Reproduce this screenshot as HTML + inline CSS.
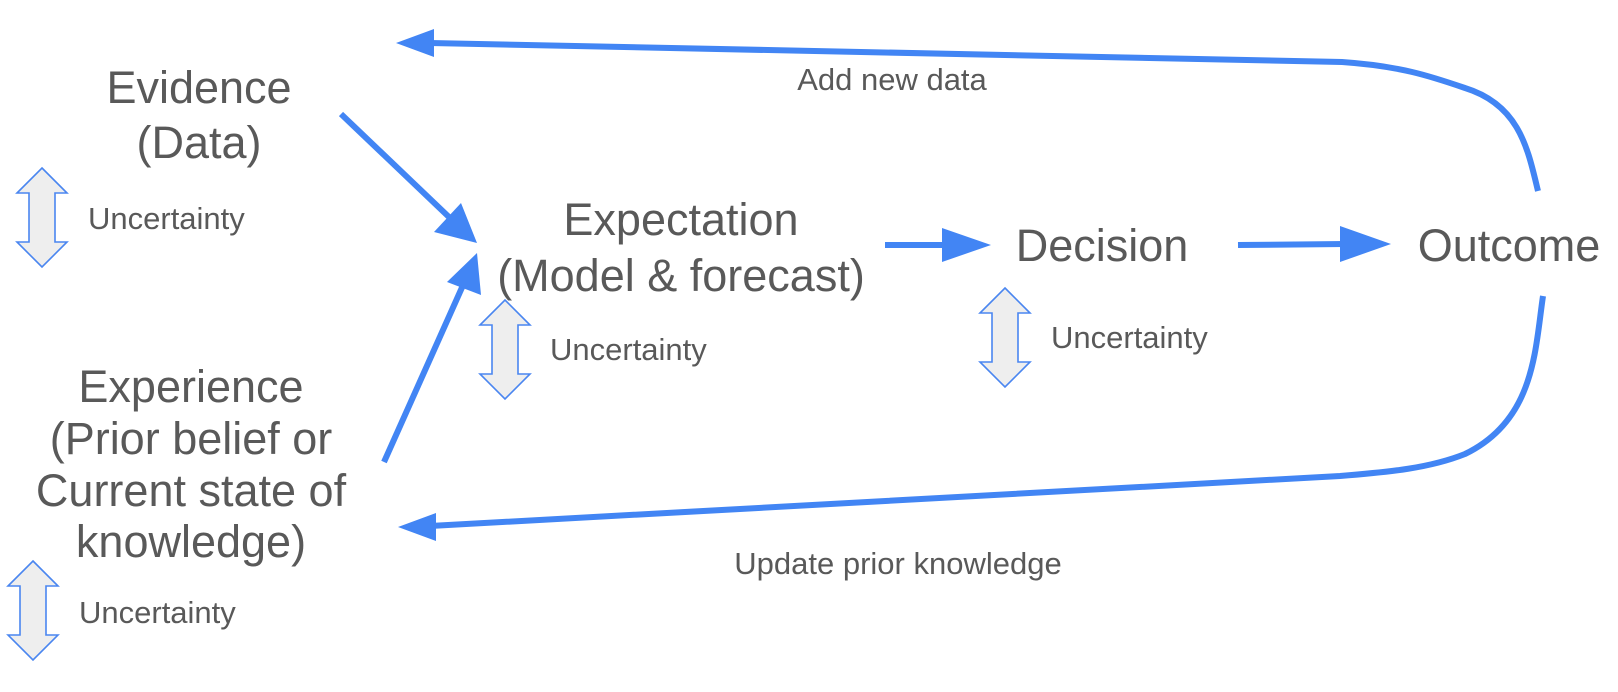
<!DOCTYPE html>
<html><head><style>
body{margin:0;width:1618px;height:692px;background:#fff;overflow:hidden}
svg{display:block}
text{font-family:"Liberation Sans",Arial,sans-serif;fill:#595959}
.b{font-size:45px}
.s{font-size:31px}
</style></head><body>
<svg width="1618" height="692" viewBox="0 0 1618 692">
<defs>
<g id="da"><path d="M25,0 L50,25 L38,25 L38,74 L50,74 L25,99 L0,74 L12,74 L12,25 L0,25 Z" fill="#eeeeee" stroke="#4a86f0" stroke-width="1.6" stroke-linejoin="miter"/></g>
</defs>
<g stroke="#4285f4" stroke-width="6" fill="none" stroke-linecap="butt">
<path d="M1538,191 C1528,150 1520,105 1465,88 C1430,76 1400,66 1342,62 L430,43"/>
<path d="M1543,296 C1535,350 1535,420 1465,454 C1430,468 1390,472 1340,476 L430,526"/>
<line x1="341" y1="114" x2="450" y2="218"/>
<line x1="384" y1="462" x2="464" y2="283"/>
<line x1="885" y1="245" x2="945" y2="245"/>
<line x1="1238" y1="245" x2="1345" y2="244"/>
</g>
<g fill="#4285f4">
<polygon points="396,43 434,29 434,57"/>
<polygon points="398,527 436,513 436,541"/>
<polygon points="477,243 434,232 461,203"/>
<polygon points="477,253 447,282 481,295"/>
<polygon points="991,245 942,228 942,262"/>
<polygon points="1391,244 1340,226 1340,262"/>
</g>
<use href="#da" x="17" y="168"/>
<use href="#da" x="480" y="300"/>
<use href="#da" x="980" y="288"/>
<use href="#da" x="8" y="561"/>
<text class="b" x="199" y="103" text-anchor="middle">Evidence</text>
<text class="b" x="199" y="158" text-anchor="middle">(Data)</text>
<text class="b" x="681" y="235" text-anchor="middle">Expectation</text>
<text class="b" x="681" y="291" text-anchor="middle">(Model &amp; forecast)</text>
<text class="b" x="1102" y="261" text-anchor="middle">Decision</text>
<text class="b" x="1509" y="261" text-anchor="middle">Outcome</text>
<text class="b" x="191" y="402" text-anchor="middle">Experience</text>
<text class="b" x="191" y="454" text-anchor="middle">(Prior belief or</text>
<text class="b" x="191" y="506" text-anchor="middle">Current state of</text>
<text class="b" x="191" y="557" text-anchor="middle">knowledge)</text>
<text class="s" x="88" y="229">Uncertainty</text>
<text class="s" x="550" y="360">Uncertainty</text>
<text class="s" x="1051" y="348">Uncertainty</text>
<text class="s" x="79" y="623">Uncertainty</text>
<text class="s" x="892" y="90" text-anchor="middle">Add new data</text>
<text class="s" x="898" y="574" text-anchor="middle">Update prior knowledge</text>
</svg>
</body></html>
